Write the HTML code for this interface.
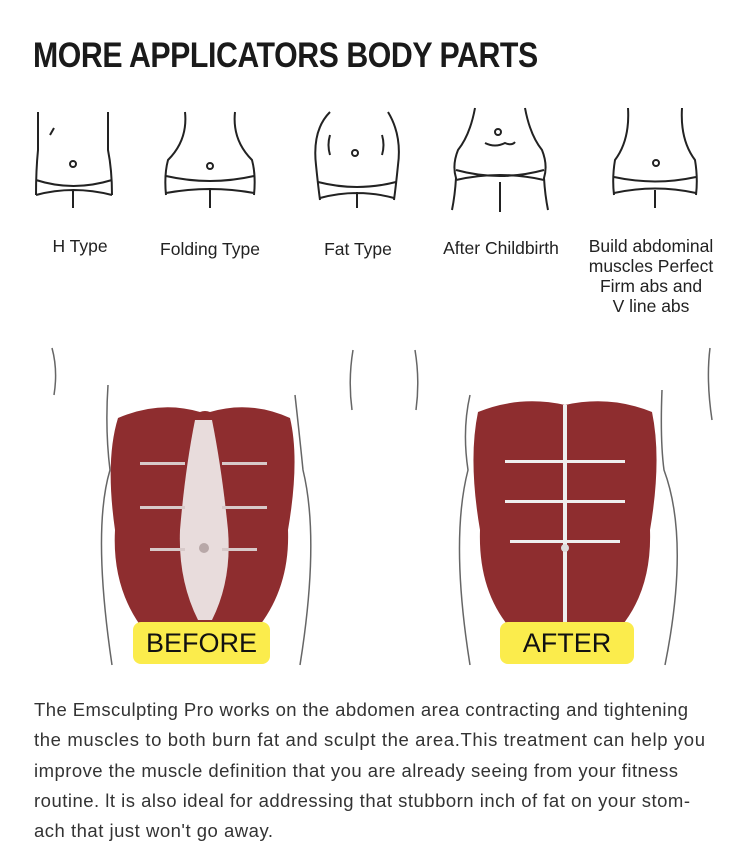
<!DOCTYPE html>
<html><head><meta charset="utf-8"><style>
body{margin:0;width:750px;height:864px;background:#fff;overflow:hidden;font-family:"Liberation Sans",sans-serif;position:relative}
h1{position:absolute;left:33px;top:36px;margin:0;font-size:35px;font-weight:bold;letter-spacing:-0.5px;color:#1a1a1a;transform:scaleX(0.865);transform-origin:left}
.lbl{position:absolute;font-size:17.5px;color:#222;text-align:center;line-height:20px;white-space:nowrap}
.tag{position:absolute;background:#fbec4c;border-radius:8px;font-size:27px;color:#111;text-align:center;line-height:42px;height:42px}
</style></head><body>
<h1>MORE APPLICATORS BODY PARTS</h1>
<svg width="750" height="864" style="position:absolute;left:0;top:0" fill="none" stroke="#222" stroke-width="2">
<g>
<path d="M38 112 V150 Q36 170 36 195 M108 112 V150 Q112 170 112 195 M36 180 Q73 192 112 180 M36 195 Q73 185 112 195 M73 190 V208 M50 135 L54 128"/><circle cx="73" cy="164" r="3"/>
<path d="M185 112 Q188 140 168 160 Q164 175 166 195 M235 112 Q232 140 252 160 Q256 175 254 195 M166 176 Q210 186 254 176 M166 193 Q210 185 254 193 M210 190 V208"/><circle cx="210" cy="166" r="3"/>
<path d="M330 112 Q312 130 316 165 Q318 185 320 200 M388 112 Q402 135 398 165 Q396 185 394 200 M318 182 Q357 192 396 182 M320 198 Q357 188 394 198 M357 192 V208 M330 135 Q327 145 330 155 M382 135 Q385 145 382 155"/><circle cx="355" cy="153" r="3"/>
<path d="M475 108 Q470 135 458 150 Q452 165 456 178 Q455 195 452 210 M525 108 Q530 135 542 150 Q548 165 544 178 Q545 195 548 210 M456 170 Q500 182 544 170 M456 180 Q500 170 544 180 M500 182 V212 M485 143 Q495 148 505 143 Q512 146 515 142"/><circle cx="498" cy="132" r="3"/>
<path d="M628 108 Q630 140 615 160 Q612 178 614 195 M682 108 Q680 140 695 160 Q698 178 696 195 M614 177 Q655 186 696 177 M614 193 Q655 184 696 193 M655 190 V208"/><circle cx="656" cy="163" r="3"/>
</g>
<g stroke="#666" stroke-width="1.5">
<path d="M52 348 Q58 370 54 395 M108 385 Q105 430 110 470 Q92 530 112 665 M295 395 Q300 440 303 470 Q320 540 300 665 M353 350 Q348 380 352 410"/>
<path d="M415 350 Q420 380 416 410 M470 395 Q462 430 468 470 Q450 540 470 665 M662 390 Q660 440 664 470 Q690 540 665 665 M710 348 Q706 380 712 420"/>
</g>
<g stroke="none">
<path d="M118 418 Q160 400 200 412 Q205 410 210 412 Q250 400 290 418 Q300 460 288 530 Q290 585 260 625 L140 625 Q112 585 115 530 Q105 460 118 418Z" fill="#8e2d2f"/>
<path d="M195 420 Q185 470 180 530 Q178 580 198 620 L212 620 Q232 580 228 530 Q222 470 212 420Z" fill="#e8dcdc"/>
<g fill="#d7c9c9"><rect x="140" y="462" width="45" height="3"/><rect x="222" y="462" width="45" height="3"/><rect x="140" y="506" width="45" height="3"/><rect x="222" y="506" width="45" height="3"/><rect x="150" y="548" width="35" height="3"/><rect x="222" y="548" width="35" height="3"/></g>
<circle cx="204" cy="548" r="5" fill="#b8a8a8"/>
</g>
<g stroke="none">
<path d="M478 412 Q520 395 565 405 Q610 395 652 412 Q662 460 650 530 Q652 590 620 628 L510 628 Q478 590 480 530 Q468 460 478 412Z" fill="#8e2d2f"/>
<g fill="#eee"><rect x="563" y="405" width="4" height="220"/><rect x="505" y="460" width="120" height="3"/><rect x="505" y="500" width="120" height="3"/><rect x="510" y="540" width="110" height="3"/></g>
<circle cx="565" cy="548" r="4" fill="#ddd"/>
</g>
<g stroke="none" fill="#333" font-family="Liberation Sans, sans-serif" font-size="18.5">
<text x="34" y="716" textLength="654" lengthAdjust="spacing">The Emsculpting Pro works on the abdomen area contracting and tightening</text>
<text x="34" y="746" textLength="671" lengthAdjust="spacing">the muscles to both burn fat and sculpt the area.This treatment can help you</text>
<text x="34" y="777" textLength="644" lengthAdjust="spacing">improve the muscle definition that you are already seeing from your fitness</text>
<text x="34" y="807" textLength="656" lengthAdjust="spacing">routine. lt is also ideal for addressing that stubborn inch of fat on your stom-</text>
<text x="34" y="837" textLength="239" lengthAdjust="spacing">ach that just won't go away.</text>
</g>
</svg>
<div class="lbl" style="left:40px;top:236px;width:80px">H Type</div>
<div class="lbl" style="left:145px;top:239px;width:130px">Folding Type</div>
<div class="lbl" style="left:308px;top:239px;width:100px">Fat Type</div>
<div class="lbl" style="left:430px;top:238px;width:142px">After Childbirth</div>
<div class="lbl" style="left:576px;top:236px;width:150px">Build abdominal<br>muscles Perfect<br>Firm abs and<br>V line abs</div>
<div class="tag" style="left:133px;top:622px;width:137px">BEFORE</div>
<div class="tag" style="left:500px;top:622px;width:134px">AFTER</div>
</body></html>
